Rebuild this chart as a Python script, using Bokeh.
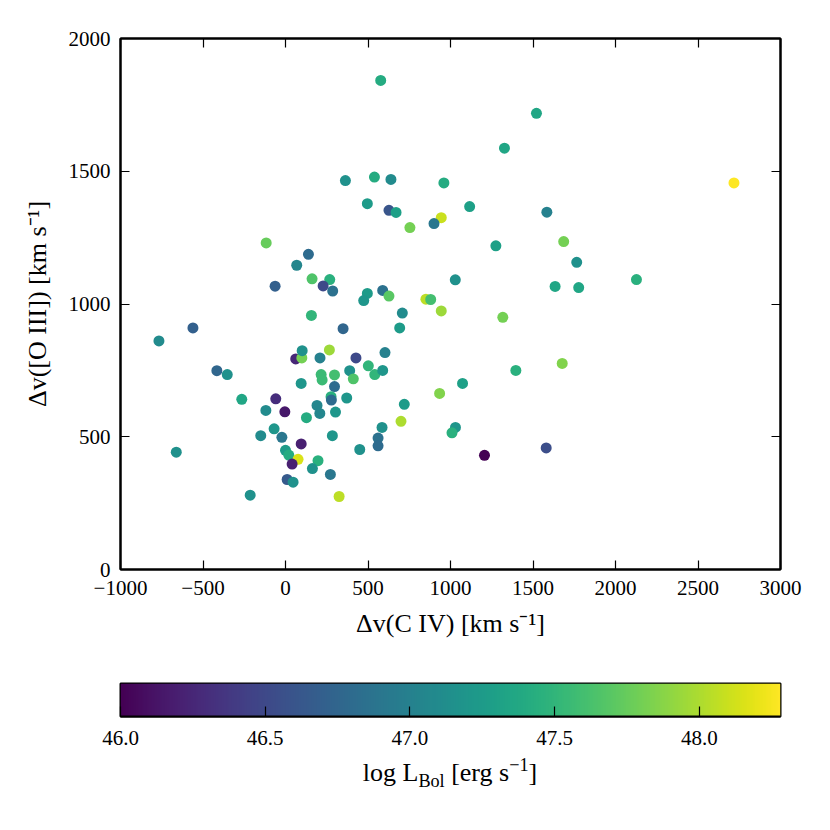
import numpy as np
from bokeh.plotting import figure
from bokeh.models import (ColumnDataSource, LinearColorMapper, Range1d,
                          FixedTicker, LinearAxis, Div)
from bokeh.layouts import column
from bokeh.palettes import Viridis256
from bokeh.embed import file_html
from bokeh.resources import INLINE

# ---------------- data ----------------
dv_civ = [
    1327, 960, 1116, 1584, 944, 2718, 1686, 1275, 1765, 1029, 1634, 1777, 2127,
    944, 1317, 1677, 1396, 1073, 934, 1030, 1009, 1206, 1580, 1521,
    -767, -561, -416, -353, -265, -119, -59, -4, -69, -150, -22, 95, 0, 20, 76,
    40, 197, 163, 272, 10, 46, -214, 325, -662, 284, 157, 349, 62, 99, 101, 209,
    266, 427, 95, 216, 222, 297, 389, 411, 297, 276, 278, 371, 191, 208, 303, 127,
    708, 692, 603, 502, 541, 589, 720, 700, 585, 561, 561, 450,
    577, 363, 539, 639, 496, 627, 670, 900, 754, -117, 139, 68, -63, 161, 268,
    228, 286, 496, 474, 589, 627, 851, 880,
]
dv_oiii = [
    1587, 1456, 1367, 1346, 1325, 1456, 1235, 1219, 1157, 1091, 1066, 1062, 1092,
    974, 950, 776, 750, 701, 663, 535, 515, 430, 458, 1718,
    861, 910, 749, 734, 641, 599, 643, 594, 530, 504, 498, 473, 449, 431, 415,
    397, 410, 380, 358, 339, 329, 280, 275, 442, 504, 957, 907, 793, 797, 824, 797,
    827, 797, 701, 734, 714, 733, 749, 718, 689, 651, 638, 646, 618, 588, 593, 572,
    966, 910, 817, 767, 734, 750, 622, 558, 535, 495, 466, 452,
    1842, 1465, 1478, 1469, 1378, 1353, 1345, 1303, 1288, 1230, 1187, 1146, 1067,
    1095, 1092, 1068, 1049, 1040, 1013, 1051, 1030, 1018, 1017,
]
log_lbol = [
    47.35, 47.4, 47.3, 47.0, 48.1, 48.28, 47.8, 47.3, 47.15, 47.15, 47.35, 47.35, 47.45,
    47.95, 47.8, 47.85, 47.45, 47.3, 47.85, 47.2, 47.45, 46.0, 46.55, 47.35,
    47.1, 46.7, 46.75, 47.15, 47.35, 47.1, 46.3, 46.15, 47.2, 47.1, 46.9, 46.2, 47.25, 47.4, 48.15,
    46.2, 47.45, 47.15, 46.9, 46.65, 47.15, 47.15, 48.05, 47.15, 47.2, 47.5, 46.75, 46.25, 47.8, 47.15, 47.0,
    47.95, 46.5, 47.2, 47.55, 47.55, 47.6, 47.15, 47.65, 46.8, 47.45, 46.8, 47.2, 47.05, 47.05, 47.2, 47.4,
    47.1, 47.25, 47.0, 47.5, 47.5, 47.2, 47.25, 48.0, 47.15, 46.85, 46.8, 47.15,
    47.4, 47.15, 47.4, 47.1, 47.25, 46.6, 47.3, 46.9, 47.8, 47.75, 46.8, 47.05, 46.7,
    47.65, 47.45, 46.5, 46.85, 47.25, 47.2, 46.85, 47.7, 48.05, 47.6,
]

x_ticks = [-1000, -500, 0, 500, 1000, 1500, 2000, 2500, 3000]
x_tick_labels = {-1000: "\u22121000", -500: "\u2212500"}
y_ticks = [0, 500, 1000, 1500, 2000]
cbar_ticks = [46.0, 46.5, 47.0, 47.5, 48.0]
cbar_low, cbar_high = 46.0, 48.28

FONT = "Liberation Serif"

mapper = LinearColorMapper(palette=Viridis256, low=cbar_low, high=cbar_high)
src = ColumnDataSource(dict(x=dv_civ, y=dv_oiii, c=log_lbol))

# ---------------- main scatter ----------------
p = figure(frame_width=660, frame_height=531,
           x_range=Range1d(-1000, 3000), y_range=Range1d(0, 2000),
           output_backend="svg", toolbar_location=None,
           min_border_left=120, min_border_top=38, min_border_right=34,
           min_border_bottom=106)
p.background_fill_color = "white"
p.border_fill_color = "white"
p.grid.visible = False
p.outline_line_color = "black"
p.outline_line_width = 2

p.add_layout(LinearAxis(), "above")
p.add_layout(LinearAxis(), "right")

for ax in p.xaxis:
    ax.ticker = FixedTicker(ticks=x_ticks)
for ax in p.yaxis:
    ax.ticker = FixedTicker(ticks=y_ticks)
for ax in list(p.xaxis) + list(p.yaxis):
    ax.axis_line_color = "black"
    ax.axis_line_width = 2
    ax.major_tick_in = 9
    ax.major_tick_out = 0
    ax.major_tick_line_width = 1.2
    ax.major_tick_line_color = "black"
    ax.minor_tick_line_color = None
    ax.major_label_text_font = FONT
    ax.major_label_text_font_size = "21px"
    ax.major_label_text_color = "black"
    ax.axis_label_text_font = FONT
    ax.axis_label_text_font_size = "26px"
    ax.axis_label_text_font_style = "normal"
    ax.axis_label_text_color = "black"

p.below[0].major_label_overrides = x_tick_labels
p.below[0].major_label_standoff = 11
p.below[0].axis_label = "\u0394v(C IV) [km s\u207b\u00b9]"
p.below[0].axis_label_standoff = 11
p.left[0].major_label_standoff = 10
p.left[0].axis_label = "\u0394v([O III]) [km s\u207b\u00b9]"
p.left[0].axis_label_standoff = 14
for ax in (p.above[0], p.right[0]):
    ax.major_label_text_font_size = "0px"
    ax.major_label_text_alpha = 0
    ax.major_label_standoff = 0

p.scatter("x", "y", source=src, size=11,
          fill_color={"field": "c", "transform": mapper}, line_color=None)

# ---------------- colour bar ----------------
cb = figure(frame_width=660, frame_height=33,
            x_range=Range1d(cbar_low, cbar_high), y_range=Range1d(0, 1),
            output_backend="svg", toolbar_location=None, y_axis_location=None,
            min_border_left=120, min_border_right=34, min_border_top=8,
            min_border_bottom=36)
cb.background_fill_color = "white"
cb.border_fill_color = "white"
cb.grid.visible = False
cb.outline_line_color = "black"
cb.outline_line_width = 2
gradient = np.linspace(cbar_low, cbar_high, 512).reshape(1, -1)
cb.image(image=[gradient], x=cbar_low, y=0, dw=cbar_high - cbar_low, dh=1,
         color_mapper=mapper)
xa = cb.xaxis[0]
xa.ticker = FixedTicker(ticks=cbar_ticks)
xa.major_label_overrides = {t: f"{t:.1f}" for t in cbar_ticks}
xa.axis_line_color = "black"
xa.axis_line_width = 2
xa.major_tick_in = 10
xa.major_tick_out = 0
xa.major_tick_line_color = "black"
xa.major_tick_line_width = 1.2
xa.minor_tick_line_color = None
xa.major_label_text_font = FONT
xa.major_label_text_font_size = "21px"
xa.major_label_text_color = "black"
xa.major_label_standoff = 14

label = Div(text='log L<sub style="font-size:70%">Bol</sub> [erg s<sup style="font-size:70%">\u22121</sup>]',
            width=660, margin=(0, 0, 0, 120),
            styles={"font-family": FONT, "font-size": "26px",
                    "text-align": "center", "color": "black"})

layout = column(p, cb, label)
open("out.html", "w").write(file_html(layout, INLINE))
